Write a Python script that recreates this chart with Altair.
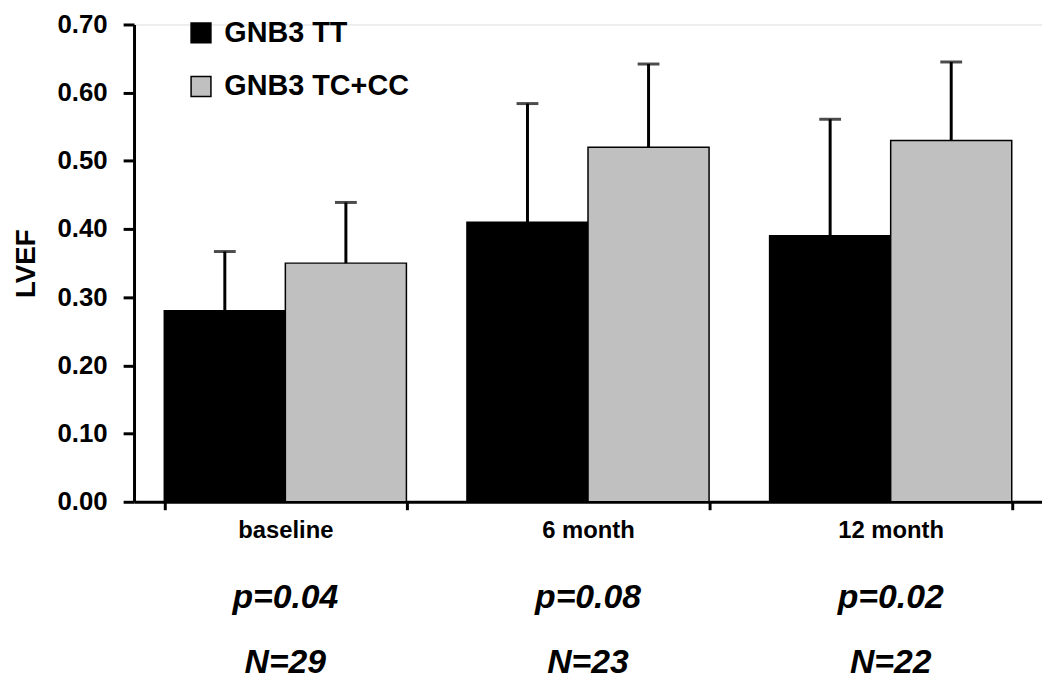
import altair as alt
import pandas as pd

categories = ["baseline", "6 month", "12 month"]
groups = ["GNB3 TT", "GNB3 TC+CC"]
tt_values = [0.28, 0.41, 0.39]
tt_upper = [0.367, 0.584, 0.561]
cc_values = [0.35, 0.52, 0.53]
cc_upper = [0.439, 0.642, 0.645]
p_labels = ["p=0.04", "p=0.08", "p=0.02"]
n_labels = ["N=29", "N=23", "N=22"]
y_ticks = [0.0, 0.1, 0.2, 0.3, 0.4, 0.5, 0.6, 0.7]
group_colors = ["#000000", "#C0C0C0"]

rows = []
for i, c in enumerate(categories):
    rows.append(dict(cat=c, group=groups[0], value=tt_values[i], upper=tt_upper[i]))
    rows.append(dict(cat=c, group=groups[1], value=cc_values[i], upper=cc_upper[i]))
df = pd.DataFrame(rows)
ann = pd.DataFrame(dict(cat=categories, p=p_labels, n=n_labels))

FONT = "Liberation Sans"

x_enc = alt.X(
    "cat:N",
    sort=categories,
    scale=alt.Scale(paddingInner=0.2, paddingOuter=0.1),
    axis=alt.Axis(
        title=None, tickBand="extent", labelAngle=0, labelFontSize=24,
        labelFontWeight="bold", labelFont=FONT, labelColor="black",
        tickSize=8, tickWidth=3, tickColor="black", domainWidth=3,
        domainColor="black", labelPadding=9,
    ),
)
x_plain = alt.X("cat:N", sort=categories)
xoff = alt.XOffset("group:N", sort=groups, scale=alt.Scale(paddingInner=0, paddingOuter=0))
y_enc = alt.Y(
    "value:Q",
    scale=alt.Scale(domain=[0, 0.7], nice=False),
    axis=alt.Axis(
        title="LVEF", values=y_ticks, format=".2f", grid=False,
        labelFontSize=26, labelFontWeight="bold", labelFont=FONT, labelColor="black",
        tickSize=11, tickWidth=3, tickColor="black", domainWidth=3, domainColor="black",
        labelPadding=16, titleFontSize=28, titleFont=FONT, titleFontWeight="bold",
        titleColor="black", titlePadding=17,
    ),
)

bars = alt.Chart(df).mark_bar(stroke="black", strokeWidth=1.5).encode(
    x=x_enc,
    xOffset=xoff,
    y=y_enc,
    color=alt.Color(
        "group:N", sort=groups,
        scale=alt.Scale(domain=groups, range=group_colors),
        legend=alt.Legend(
            title=None, orient="none", legendX=53, legendY=-6, padding=0,
            symbolType="square", symbolSize=400, symbolStrokeColor="black",
            symbolStrokeWidth=1.5, labelFontSize=29, labelFont=FONT,
            labelFontWeight="bold", labelColor="black", labelOffset=9,
            rowPadding=24, labelLimit=0,
        ),
    ),
)

rules = alt.Chart(df).mark_rule(color="black", strokeWidth=3).encode(
    x=x_plain, xOffset=xoff, y="value:Q", y2="upper:Q"
)
caps = alt.Chart(df).mark_tick(color="black", orient="horizontal", size=22, thickness=3).encode(
    x=x_plain, xOffset=xoff, y="upper:Q"
)

p_text = alt.Chart(ann).mark_text(
    font=FONT, fontSize=34, fontStyle="italic", fontWeight="bold", color="black", baseline="middle"
).encode(x=x_plain, y=alt.value(578), text="p:N")
n_text = alt.Chart(ann).mark_text(
    font=FONT, fontSize=34, fontStyle="italic", fontWeight="bold", color="black", baseline="middle"
).encode(x=x_plain, y=alt.value(644), text="n:N")

chart = alt.layer(bars, rules, caps, p_text, n_text).properties(
    width=915, height=481,
    padding={"left": 127, "top": 14, "right": 0, "bottom": 178},
    autosize="none",
).configure_view(stroke=None).configure(background="white")

chart.save("out.html", embed_options={"renderer": "svg", "actions": False})
